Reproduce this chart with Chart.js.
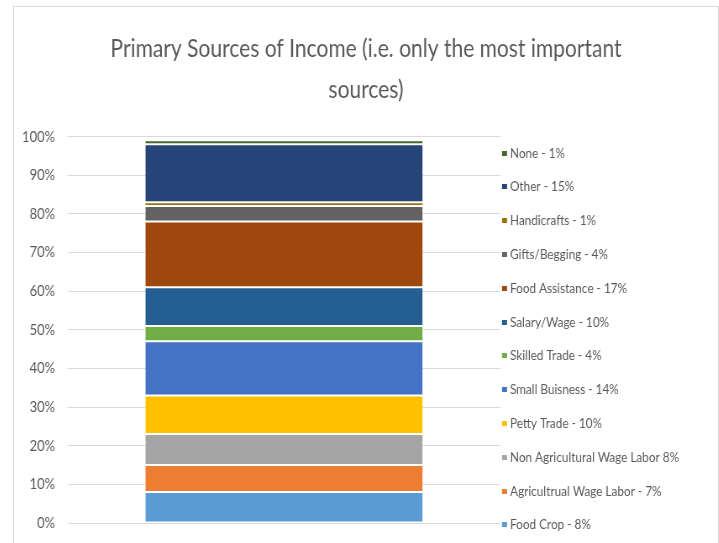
<!DOCTYPE html>
<html>
<head>
<meta charset="utf-8">
<title>Primary Sources of Income</title>
<script src="https://cdn.jsdelivr.net/npm/chart.js@4.4.1/dist/chart.umd.min.js"></script>
<style>
  html, body { margin: 0; padding: 0; background: #fff; overflow: hidden; width: 719px; height: 543px; }
  .caption {
    position: absolute; left: 15px; top: -25px; line-height: 26px;
    font: bold 22px 'Liberation Sans', Arial, sans-serif; color: #000; white-space: nowrap;
  }
  .frame {
    position: absolute; left: 13px; top: 6px; width: 704px; height: 560px;
    border: 1px solid #d9d9d9; background: #fff;
  }
  /* the chart is drawn wider and squeezed back into the frame, giving the narrow lettering */
  #income-chart { width: 704px !important; height: 560px !important; }
</style>
</head>
<body>
<div class="caption">Figure (x): Sources by Household</div>
<div class="frame"><canvas id="income-chart" width="838" height="560" style="width:704px;height:560px"></canvas></div>
<script>
const FONT = "Lato, 'Open Sans', sans-serif";
const SQUEEZE = 704 / 838;

// one stacked column, bottom to top
const sources = ['Food Crop', 'Agricultrual Wage Labor', 'Non Agricultural Wage Labor', 'Petty Trade',
    'Small Buisness', 'Skilled Trade', 'Salary/Wage', 'Food Assistance', 'Gifts/Begging',
    'Handicrafts', 'Other', 'None'];
const shares = [8, 7, 8, 10, 14, 4, 10, 17, 4, 1, 15, 1];
const legendLabels = ['Food Crop - 8%', 'Agricultrual Wage Labor - 7%', 'Non Agricultural Wage Labor 8%',
    'Petty Trade - 10%', 'Small Buisness - 14%', 'Skilled Trade - 4%', 'Salary/Wage - 10%',
    'Food Assistance - 17%', 'Gifts/Begging - 4%', 'Handicrafts - 1%', 'Other - 15%', 'None - 1%'];
const colors = ['#5B9BD5', '#ED7D31', '#A5A5A5', '#FFC000', '#4472C4', '#70AD47',
    '#255E91', '#9E480E', '#636363', '#997300', '#264478', '#43682B'];
const yTicks = [0, 10, 20, 30, 40, 50, 60, 70, 80, 90, 100];

// legend listed top-down in reverse stack order, drawn in the space kept on the right
const sideLegend = {
    id: 'sideLegend',
    afterDraw(chart, args, opts) {
        const { ctx, chartArea } = chart;
        const datasets = chart.data.datasets.slice().reverse();
        const box = opts.box / SQUEEZE;
        ctx.save();
        ctx.font = opts.size + 'px ' + FONT;
        ctx.textBaseline = 'middle';
        datasets.forEach((ds, i) => {
            const y = opts.top + i * opts.step;
            const x = chartArea.right + opts.gap / SQUEEZE;
            ctx.fillStyle = ds.backgroundColor;
            ctx.fillRect(x, Math.round(y - opts.box / 2), box, opts.box);
            ctx.fillStyle = opts.color;
            ctx.fillText(ds.label, x + box + 3 / SQUEEZE, y);
        });
        ctx.restore();
    }
};

new Chart(document.getElementById('income-chart'), {
    type: 'bar',
    data: {
        labels: [''],
        datasets: sources.map((name, i) => ({
            label: legendLabels[i],
            data: [shares[i]],
            backgroundColor: colors[i],
            borderColor: '#ffffff',
            borderWidth: 1,
            borderSkipped: false,
            categoryPercentage: 1,
            barPercentage: 0.645
        }))
    },
    options: {
        responsive: false,
        animation: false,
        layout: { padding: { left: 0, right: 0, top: 0, bottom: 44 } },
        plugins: {
            legend: { display: false },
            tooltip: { enabled: false },
            title: {
                display: true,
                text: ['Primary Sources of Income (i.e. only the most important', 'sources)'],
                color: '#595959',
                font: { family: FONT, size: 25, weight: 'normal', lineHeight: 1.65 },
                padding: { top: 21, bottom: 26 }
            },
            sideLegend: { top: 146, step: 33.8, gap: 2, box: 5, size: 14, color: '#595959' }
        },
        scales: {
            x: {
                stacked: true,
                display: false
            },
            y: {
                stacked: true,
                min: 0,
                max: 100,
                afterFit(scale) { scale.width = 54 / SQUEEZE; },
                afterBuildTicks(scale) { scale.ticks = yTicks.map(v => ({ value: v })); },
                ticks: {
                    color: '#595959',
                    padding: 13 / SQUEEZE,
                    font: { family: FONT, size: 15.5 },
                    callback: v => v + '%'
                },
                grid: { color: '#d9d9d9', lineWidth: 1, drawTicks: false },
                border: { display: false }
            },
            // empty axis that only reserves room for the legend
            legendRoom: {
                position: 'right',
                display: true,
                afterFit(scale) { scale.width = 218 / SQUEEZE; },
                ticks: { display: false },
                grid: { display: false, drawTicks: false },
                border: { display: false }
            }
        }
    },
    plugins: [sideLegend]
});
</script>
</body>
</html>
